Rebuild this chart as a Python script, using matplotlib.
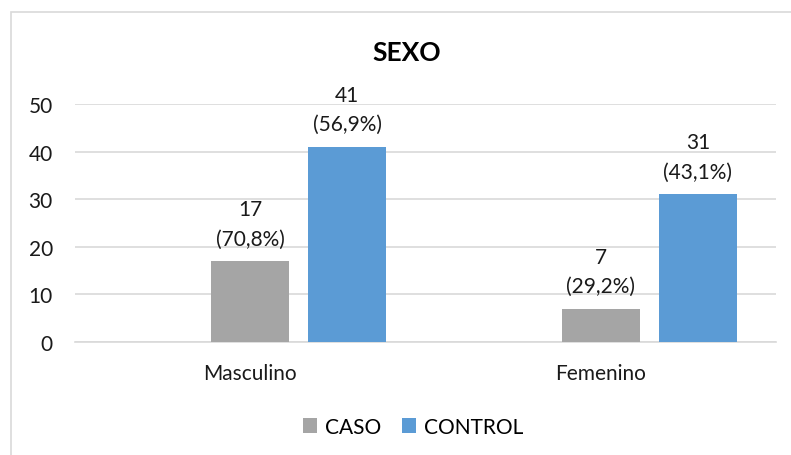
import matplotlib.pyplot as plt
from matplotlib.patches import Rectangle
import numpy as np

categorias = ['Masculino', 'Femenino']
caso = [17, 7]
control = [41, 31]
pct_caso = ['70,8%', '29,2%']
pct_control = ['56,9%', '43,1%']
series = ['CASO', 'CONTROL']
colores = ['#A5A5A5', '#5B9BD5']

plt.rcParams['font.family'] = ['Lato', 'DejaVu Sans']

fig = plt.figure(figsize=(7.91, 4.56), dpi=100)
ax = fig.add_axes([0.0948, 0.2478, 0.8862, 0.5219])

# borde del gráfico
fig.patches.append(Rectangle(
    (11 / 791, -0.1), 1.2, 1 - 13 / 456 + 0.1,
    transform=fig.transFigure, fill=False,
    edgecolor='#D9D9D9', linewidth=1.2,
))

x = np.arange(len(categorias))
ancho = 0.2225
offset = 0.277

b1 = ax.bar(x, caso, ancho, color=colores[0], label=series[0], zorder=3)
b2 = ax.bar(x + offset, control, ancho, color=colores[1], label=series[1], zorder=3)

for bars, vals, pcts in [(b1, caso, pct_caso), (b2, control, pct_control)]:
    for b, v, p in zip(bars, vals, pcts):
        ax.annotate(
            f'{v}\n({p})',
            (b.get_x() + b.get_width() / 2, v),
            xytext=(0, 9), textcoords='offset points',
            ha='center', va='bottom', fontsize=15,
            linespacing=1.6, color='#1a1a1a',
        )

ax.set_xlim(-0.5, 1.5)
ax.set_ylim(0, 50)
ax.set_yticks(range(0, 51, 10))
ax.set_xticks(x)
ax.set_xticklabels(categorias)
ax.tick_params(axis='both', length=0, labelsize=15, colors='#1a1a1a')
ax.tick_params(axis='x', pad=15)
ax.tick_params(axis='y', pad=16)

ax.grid(axis='y', color='#D9D9D9', linewidth=1.2, zorder=0)
for s in ['top', 'right', 'left']:
    ax.spines[s].set_visible(False)
ax.spines['bottom'].set_color('#D9D9D9')
ax.spines['bottom'].set_linewidth(1.2)

fig.text(0.5145, 0.883, 'SEXO', ha='center', va='center',
         fontsize=19, fontweight='bold', color='#000000')

fig.legend(
    loc='center', bbox_to_anchor=(0.522, 0.062), ncol=2,
    frameon=False, fontsize=15, handlelength=0.7, handleheight=0.7,
    handletextpad=0.35, columnspacing=1.0,
)

fig.savefig('out.png', dpi=100)
